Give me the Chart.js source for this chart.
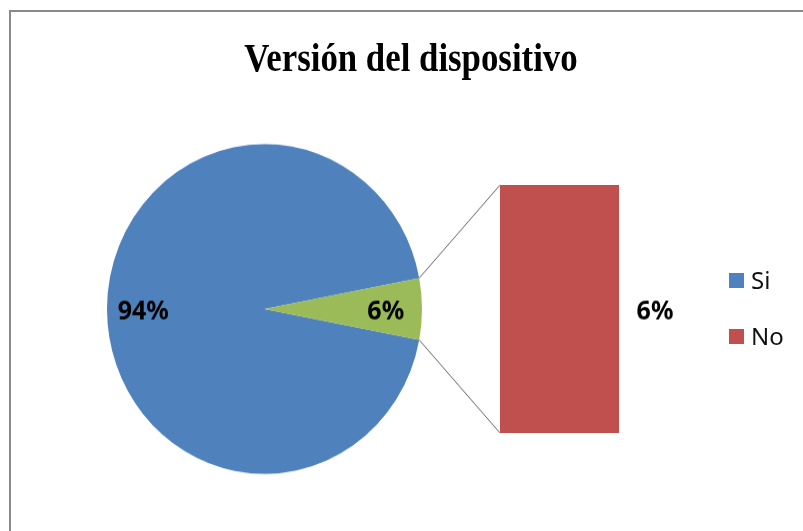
<!DOCTYPE html>
<html>
<head>
<meta charset="utf-8">
<script src="https://cdn.jsdelivr.net/npm/chart.js@4/dist/chart.umd.min.js"></script>
<style>
    html, body { margin: 0; padding: 0; background: #fff; overflow: hidden; }
    #stage { position: relative; width: 803px; height: 531px; overflow: hidden; }
    .frame {
        position: absolute; left: 9px; top: 10px; width: 900px; height: 600px;
        border-left: 2px solid #8a8a8a; border-top: 2px solid #8a8a8a;
    }
    canvas { position: absolute; }
    #pie { left: 0; top: 0; transform-origin: 264.5px 309px; }
    #bar { left: 500px; top: 185px; }
    .title {
        position: absolute; left: 0; top: 38px; width: 822px; text-align: center;
        font: bold 40px/40px "Liberation Serif", "Times New Roman", serif; color: #000;
        transform: scaleX(0.87); transform-origin: 50% 50%;
    }
    .legend { position: absolute; left: 729px; top: 268px; font: 24px/24px "Noto Sans", sans-serif; color: #111; }
    .legend div { position: relative; height: 56px; padding-left: 22px; }
    .legend span { position: absolute; left: 0; top: 5px; width: 15px; height: 15px; }
</style>
</head>
<body>
<div id="stage">
    <div class="frame"></div>
    <canvas id="pie" width="803" height="531"></canvas>
    <canvas id="bar" width="119" height="248"></canvas>
    <div class="title">Versión del dispositivo</div>
    <div class="legend" id="legend"></div>
</div>
<script>
const categories = ['Si', 'No']
const values = [94, 6]
const secondary = ['No']              // categories split off into the bar
const colors = { Si: '#4F81BD', No: '#C0504D', Other: '#9BBB59' }

const total = values.reduce((a, b) => a + b, 0)
const pct = v => Math.round(v / total * 100) + '%'
const secIdx = categories.map((c, i) => secondary.includes(c) ? i : -1).filter(i => i >= 0)
const primIdx = categories.map((c, i) => secondary.includes(c) ? -1 : i).filter(i => i >= 0)
const otherValue = secIdx.reduce((s, i) => s + values[i], 0)
const pieValues = [...primIdx.map(i => values[i]), otherValue]
const pieColors = [...primIdx.map(i => colors[categories[i]]), colors.Other]

const labelFont = 'bold 25px "Noto Sans", sans-serif'

// the excel pie is a little taller than wide
const pieStretch = 1.047
const pieCenterY = 309
document.getElementById('pie').style.transform = `scaleY(${pieStretch})`
const toPieY = y => pieCenterY + (y - pieCenterY) / pieStretch

// legend
const legend = document.getElementById('legend')
categories.forEach(c => {
    const row = document.createElement('div')
    row.innerHTML = `<span style="background:${colors[c]}"></span>${c}`
    legend.appendChild(row)
})

// secondary bar
const barChart = new Chart(document.getElementById('bar'), {
    type: 'bar',
    data: {
        labels: ['otro'],
        datasets: secIdx.map(i => ({
            label: categories[i],
            data: [values[i]],
            backgroundColor: colors[categories[i]],
            borderWidth: 0,
            barPercentage: 1,
            categoryPercentage: 1,
        }))
    },
    options: {
        responsive: false,
        animation: false,
        devicePixelRatio: 1,
        layout: { padding: 0 },
        plugins: { legend: { display: false }, tooltip: { enabled: false } },
        scales: {
            x: { display: false, stacked: true },
            y: { display: false, stacked: true, min: 0, max: otherValue }
        }
    }
})

const barOffset = { x: 500, y: 185 }

const pieExtras = {
    id: 'pieExtras',
    afterDatasetsDraw(chart) {
        const ctx = chart.ctx
        const arcs = chart.getDatasetMeta(0).data
        ctx.save()
        ctx.font = labelFont
        ctx.fillStyle = '#000'
        ctx.textAlign = 'center'
        ctx.textBaseline = 'middle'
        arcs.forEach((arc, i) => {
            const mid = (arc.startAngle + arc.endAngle) / 2
            const d = arc.outerRadius * 0.77
            ctx.fillText(pct(pieValues[i]), arc.x + Math.cos(mid) * d, arc.y + Math.sin(mid) * d + 3)
        })

        // connector lines from the "other" slice to the bar
        const other = arcs[arcs.length - 1]
        const b = barChart.getDatasetMeta(0).data[0]
        const left = barOffset.x + b.x - b.width / 2
        const metaTop = barChart.getDatasetMeta(secIdx.length - 1).data[0]
        const top = toPieY(barOffset.y + metaTop.y)
        const bottom = toPieY(barOffset.y + b.base)
        ctx.strokeStyle = '#606060'
        ctx.lineWidth = 1
        ctx.beginPath()
        ctx.moveTo(other.x + Math.cos(other.startAngle) * other.outerRadius, other.y + Math.sin(other.startAngle) * other.outerRadius)
        ctx.lineTo(left, top)
        ctx.moveTo(other.x + Math.cos(other.endAngle) * other.outerRadius, other.y + Math.sin(other.endAngle) * other.outerRadius)
        ctx.lineTo(left, bottom)
        ctx.stroke()

        // bar value labels, right of the bar
        barChart.data.datasets.forEach((ds, k) => {
            const el = barChart.getDatasetMeta(k).data[0]
            ctx.fillText(pct(ds.data[0]), barOffset.x + el.x + el.width / 2 + 36, toPieY(barOffset.y + (el.y + el.base) / 2 + 3))
        })
        ctx.restore()
    }
}

new Chart(document.getElementById('pie'), {
    type: 'pie',
    data: {
        labels: [...primIdx.map(i => categories[i]), 'Otro'],
        datasets: [{ data: pieValues, backgroundColor: pieColors, borderWidth: 0 }]
    },
    options: {
        responsive: false,
        animation: false,
        devicePixelRatio: 1,
        // put the "other" slice centred on the right side
        rotation: 90 + otherValue / total * 180,
        layout: { padding: { left: 107, right: 381, top: 151.5, bottom: 64.5 } },
        plugins: { legend: { display: false }, tooltip: { enabled: false } }
    },
    plugins: [pieExtras]
})
</script>
</body>
</html>
